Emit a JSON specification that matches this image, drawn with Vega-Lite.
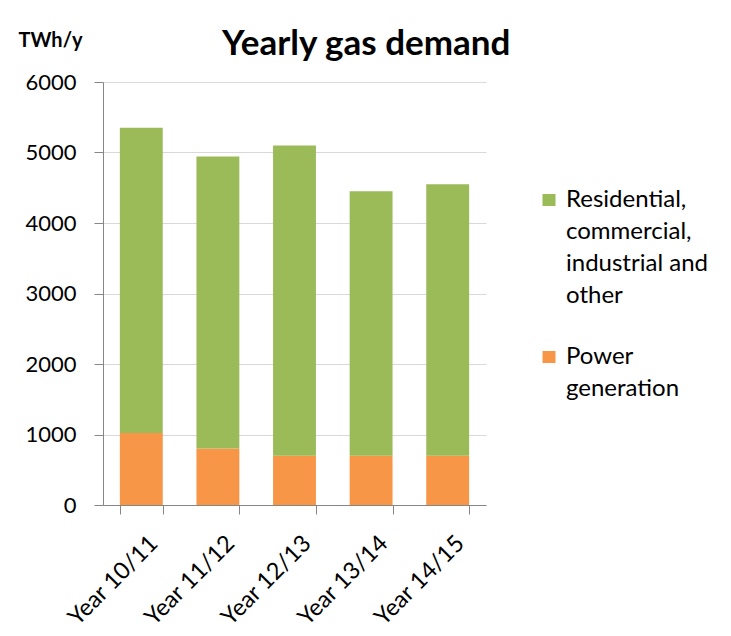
{
  "$schema": "https://vega.github.io/schema/vega-lite/v6.json",
  "width": 383,
  "height": 423,
  "autosize": {"type": "none"},
  "padding": {"left": 103, "top": 82, "right": 245, "bottom": 131},
  "background": "white",
  "title": {
    "text": "Yearly gas demand",
    "anchor": "start",
    "frame": "group",
    "dx": 119,
    "dy": 89,
    "font": "Lato",
    "fontSize": 35,
    "fontWeight": "bold",
    "color": "#000000",
    "baseline": "alphabetic",
    "offset": 29
  },
  "data": {
    "values": [
      {"year": "Year 10/11", "category": "Power generation", "value": 1020},
      {"year": "Year 10/11", "category": "Residential, commercial, industrial and other", "value": 4330},
      {"year": "Year 11/12", "category": "Power generation", "value": 800},
      {"year": "Year 11/12", "category": "Residential, commercial, industrial and other", "value": 4145},
      {"year": "Year 12/13", "category": "Power generation", "value": 700},
      {"year": "Year 12/13", "category": "Residential, commercial, industrial and other", "value": 4400},
      {"year": "Year 13/14", "category": "Power generation", "value": 700},
      {"year": "Year 13/14", "category": "Residential, commercial, industrial and other", "value": 3750},
      {"year": "Year 14/15", "category": "Power generation", "value": 700},
      {"year": "Year 14/15", "category": "Residential, commercial, industrial and other", "value": 3850}
    ]
  },
  "mark": {"type": "bar"},
  "encoding": {
    "x": {
      "field": "year",
      "type": "nominal",
      "sort": null,
      "scale": {"paddingInner": 0.44, "paddingOuter": 0.22},
      "axis": {
        "title": null,
        "tickBand": "extent",
        "labelAngle": -45,
        "labelFont": "Lato",
        "labelFontSize": 23.5,
        "labelColor": "#000000",
        "labelPadding": 17,
        "labelOffset": 4,
        "tickSize": 9,
        "tickColor": "#868686",
        "domainColor": "#868686",
        "grid": false
      }
    },
    "y": {
      "field": "value",
      "type": "quantitative",
      "stack": "zero",
      "scale": {"domain": [0, 6000]},
      "axis": {
        "title": "TWh/y",
        "values": [0, 1000, 2000, 3000, 4000, 5000, 6000],
        "format": "d",
        "labelFont": "Lato",
        "labelFontSize": 22,
        "labelColor": "#000000",
        "labelPadding": 18,
        "tickSize": 9,
        "tickColor": "#868686",
        "domainColor": "#868686",
        "gridColor": "#D9D9D9",
        "grid": true,
        "titleX": -85,
        "titleY": -36,
        "titleAngle": 0,
        "titleAlign": "left",
        "titleBaseline": "alphabetic",
        "titleFont": "Lato",
        "titleFontSize": 20,
        "titleFontWeight": "bold",
        "titleColor": "#000000"
      }
    },
    "color": {
      "field": "category",
      "type": "nominal",
      "scale": {
        "domain": ["Residential, commercial, industrial and other", "Power generation"],
        "range": ["#9BBB59", "#F79646"]
      },
      "legend": {
        "title": null,
        "orient": "none",
        "legendX": 434,
        "legendY": 113,
        "labelExpr": "datum.label == 'Power generation' ? ['Power', 'generation'] : ['Residential,', 'commercial,', 'industrial and', 'other']",
        "labelFont": "Lato",
        "labelFontSize": 24,
        "labelColor": "#000000",
        "labelBaseline": "alphabetic",
        "labelOffset": 5,
        "labelLimit": 300,
        "symbolType": "M-1,-2.0H1V-0.15H-1Z",
        "symbolSize": 169,
        "symbolStrokeWidth": 0,
        "symbolOpacity": 1,
        "rowPadding": 37,
        "padding": 0
      }
    },
    "order": {"field": "category", "sort": "ascending"}
  },
  "config": {
    "view": {"stroke": null},
    "style": {"guide-label": {"lineHeight": 32}}
  }
}
